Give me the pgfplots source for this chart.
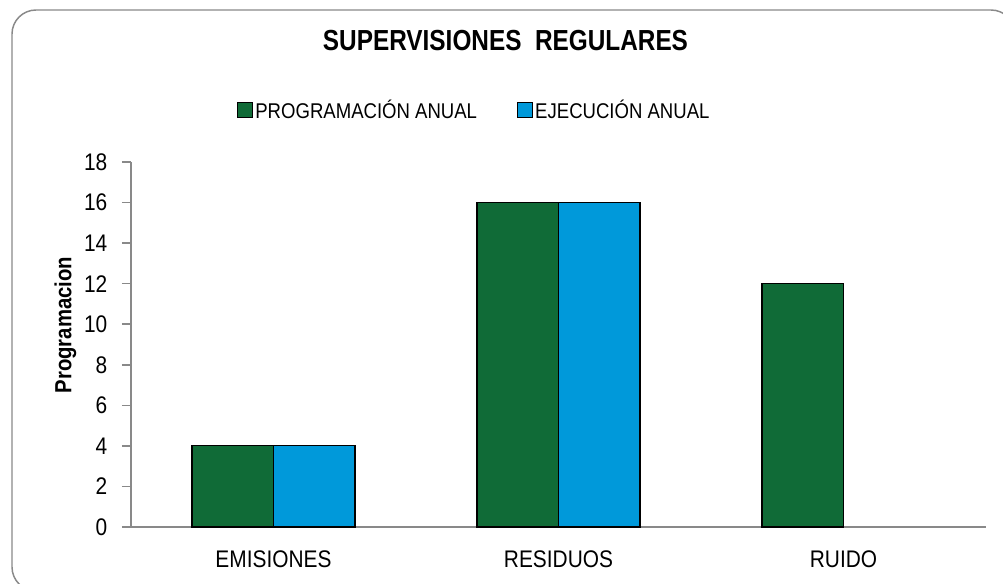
\documentclass[border=0pt]{standalone}
\usepackage{fontspec}
\setmainfont[FakeStretch=0.87]{Liberation Sans}
\newfontfamily\titlefont[FakeStretch=0.84]{Liberation Sans}
\usepackage{pgfplots}
\pgfplotsset{compat=1.18}
\definecolor{cgreen}{RGB}{16,107,55}
\definecolor{cblue}{RGB}{0,153,218}
\definecolor{cgray}{RGB}{137,137,137}
\begin{document}
\begin{tikzpicture}[x=0.75pt,y=0.75pt]
\useasboundingbox (0,0) rectangle (1003,583);
\begin{scope}
\clip (0,0) rectangle (1003,583);
\draw[cgray, line width=1.1pt, rounded corners=18pt] (12,-8) rectangle (1015,573);
\end{scope}
\node[font=\titlefont\bfseries\fontsize{21.75}{24}\selectfont] at (505.5,542.5) {SUPERVISIONES\ \ REGULARES};
\node[rotate=90, font=\bfseries\fontsize{17.5}{19}\selectfont] at (65.5,258) {Programacion};
\begin{axis}[
  at={(98.25pt,42pt)}, anchor=south west,
  scale only axis, width=641.25pt, height=273.75pt,
  ybar=0pt, bar width=61.1pt,
  xmin=-0.5, xmax=2.5, ymin=0, ymax=18,
  ytick={0,2,...,18},
  xtick={0,1,2}, xticklabels={EMISIONES,RESIDUOS,RUIDO},
  axis x line*=bottom, axis y line*=left,
  axis line style={cgray, line width=1.1pt},
  tick align=outside, major tick length=6.75pt,
  ytick style={cgray, line width=1.1pt},
  xtick style={draw=none},
  tick label style={font=\fontsize{18}{20}\selectfont},
  yticklabel style={xshift=-7.5pt},
  xticklabel style={yshift=-7.5pt},
  /pgf/number format/assume math mode=true,
  legend style={at={(0.402,1.142)}, anchor=center, draw=none,
    legend columns=2, font=\fontsize{16}{18}\selectfont,
    /tikz/every even column/.append style={column sep=28pt}},
  legend image code/.code={\draw[#1, draw=black, line width=0.6pt] (0pt,-5.5pt) rectangle (11pt,5.5pt);},
]
\addplot[fill=cgreen, draw=black, line width=0.9pt] coordinates {(0,4) (1,16) (2,12)};
\addplot[fill=cblue, draw=black, line width=0.9pt] coordinates {(0,4) (1,16)};
\legend{PROGRAMACIÓN ANUAL, EJECUCIÓN ANUAL}
\end{axis}
\end{tikzpicture}
\end{document}
